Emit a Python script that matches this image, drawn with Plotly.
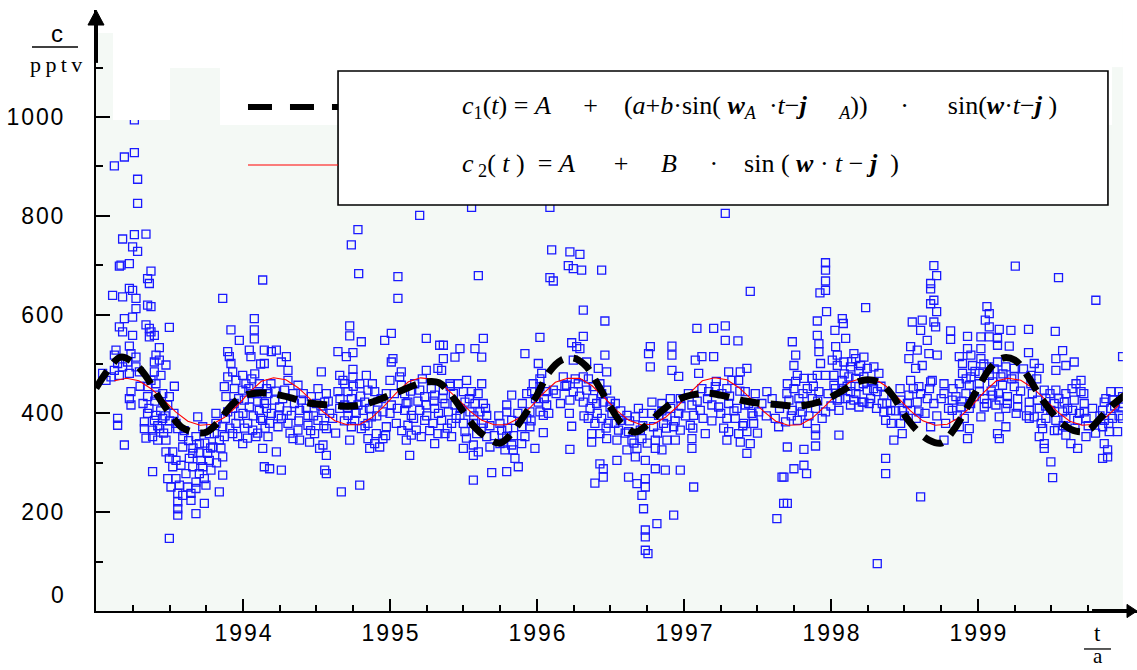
import plotly.graph_objects as go

# ---------------- data ----------------
# measured concentrations c / pptv, grouped by period: [year, value]
obs_1993 = [
 [1993.261,994],[1993.125,901],[1993.193,919],[1993.261,928],[1993.283,874],[1993.283,825],
 [1993.181,753],[1993.261,762],[1993.340,763],[1993.249,737],[1993.283,728],[1993.159,698],
 [1993.227,703],[1993.170,700],[1993.374,688],[1993.351,673],[1993.363,663],[1993.113,639],
 [1993.181,636],[1993.227,653],[1993.249,649],[1993.272,633],[1993.351,619],[1993.374,616],
 [1993.272,612],[1993.193,592],[1993.249,595],[1993.159,575],[1993.181,565],[1993.249,558],
 [1993.340,579],[1993.363,572],[1993.374,565],[1993.397,558],[1993.363,555],[1993.499,574],
 [1993.136,528],[1993.125,518],[1993.227,536],[1993.238,521],[1993.272,514],[1993.431,533],
 [1993.408,518],[1993.397,504],[1993.431,508],[1993.476,498],[1993.147,501],[1993.181,494],
 [1993.215,504],[1993.272,494],[1993.159,477],[1993.227,481],[1993.295,484],[1993.397,484],
 [1993.442,477],[1993.374,467],[1993.408,460],[1993.351,454],[1993.533,455],[1993.238,444],
 [1993.227,430],[1993.238,417],[1993.351,434],[1993.408,437],[1993.454,440],[1993.499,434],
 [1993.488,417],[1993.147,390],[1993.147,376],[1993.193,336],[1993.351,400],[1993.408,396],
 [1993.329,383],[1993.397,386],[1993.454,390],[1993.329,369],[1993.385,366],[1993.431,369],
 [1993.488,369],[1993.544,380],[1993.590,353],[1993.420,346],[1993.476,346],[1993.385,353],
 [1993.556,369],[1993.385,282],[1993.476,322],[1993.522,322],[1993.499,309],[1993.544,305],
 [1993.590,332],[1993.578,295],[1993.522,292],[1993.488,268],[1993.544,268],[1993.510,251],
 [1993.567,255],[1993.556,238],[1993.556,221],[1993.556,207],[1993.556,194],[1993.590,234],
 [1993.624,251],[1993.646,238],[1993.646,224],[1993.612,278],[1993.658,292],[1993.680,197],
 [1993.680,261],[1993.680,248],[1993.703,278],[1993.714,305],[1993.726,292],[1993.737,218],
 [1993.737,268],[1993.748,255],[1993.760,319],[1993.771,305],[1993.782,285],[1993.794,332],
 [1993.839,241],[1993.862,275],[1993.862,312],[1993.499,147],[1993.692,393],[1993.680,353],
 [1993.703,339],[1993.658,319],[1993.635,309],[1993.726,373],[1993.771,359],[1993.816,380],
 [1993.805,359],[1993.839,346],[1993.816,400],[1993.862,373],[1993.873,353],[1993.896,403],
 [1993.884,434],[1993.873,454],[1993.896,474],[1993.896,525],[1993.907,515],[1993.918,501],
 [1993.930,484],[1993.952,467],[1993.941,450],[1993.862,633],[1993.918,569],[1993.975,548],
 [1993.952,380],[1993.930,359],[1993.964,353],[1993.998,339],[1993.998,477],[1993.998,447],
 [1993.045,481],[1993.068,467],[1993.102,474],[1993.125,487],[1993.930,410],[1993.970,430],
]
obs_1994 = [
 [1994.009,427],[1994.032,380],[1994.043,413],[1994.043,528],[1994.054,515],[1994.077,592],
 [1994.077,569],[1994.077,551],[1994.066,366],[1994.088,353],[1994.134,670],[1994.145,528],
 [1994.145,501],[1994.134,329],[1994.145,292],[1994.111,460],[1994.111,406],[1994.145,420],
 [1994.134,386],[1994.020,460],[1994.060,440],[1994.100,425],[1994.120,390],[1994.070,395],
 [1994.030,350],[1994.100,360],[1994.150,370],[1994.000,400],[1994.080,480],[1994.120,500],
 [1994.160,450],
 [1994.782,772],[1994.737,741],[1994.787,683],[1995.054,677],[1995.054,633],[1995.202,801],
 [1994.726,577],[1994.726,557],[1994.805,545],[1994.964,548],[1995.009,562],[1995.247,552],
 [1995.338,538],[1994.646,525],[1994.703,515],[1994.748,523],[1994.227,528],[1994.193,525],
 [1994.295,515],[1994.261,504],[1995.020,511],[1995.009,504],[1994.533,484],[1994.748,489],
 [1994.839,477],[1994.658,477],[1994.680,467],[1994.748,474],[1995.077,484],[1995.000,467],
 [1995.066,474],[1995.247,487],[1995.326,491],[1994.306,487],[1994.306,467],[1994.374,457],
 [1994.170,440],[1994.215,427],[1994.249,413],[1994.283,447],[1994.340,440],[1994.397,427],
 [1994.465,434],[1994.499,420],[1994.567,440],[1994.556,423],[1994.590,400],[1994.193,400],
 [1994.261,390],[1994.329,396],[1994.385,406],[1994.442,396],[1994.510,386],[1994.544,406],
 [1994.181,380],[1994.238,373],[1994.306,380],[1994.374,366],[1994.442,376],[1994.487,359],
 [1994.567,369],[1994.340,349],[1994.385,346],[1994.453,342],[1994.521,329],[1994.544,336],
 [1994.170,353],[1994.227,322],[1994.181,288],[1994.261,285],[1994.556,285],[1994.567,278],
 [1994.567,315],[1994.669,241],[1994.794,255],[1994.692,460],[1994.646,444],[1994.714,444],
 [1994.794,460],[1994.850,447],[1994.896,444],[1994.737,430],[1994.692,417],[1994.658,410],
 [1994.782,417],[1994.828,423],[1994.918,423],[1994.975,440],[1994.714,396],[1994.760,386],
 [1994.816,406],[1994.873,393],[1994.952,403],[1995.009,417],[1994.737,373],[1994.805,369],
 [1994.850,380],[1994.907,359],[1994.975,373],[1995.043,380],[1994.850,349],[1994.896,339],
 [1994.952,349],[1994.862,329],[1994.930,332],[1994.726,346],[1995.111,346],[1995.134,315],
 [1995.077,457],[1995.100,440],[1995.122,423],[1995.168,460],[1995.202,447],[1995.236,434],
 [1995.281,450],[1995.304,437],[1995.100,406],[1995.145,396],[1995.202,406],[1995.247,417],
 [1995.304,410],[1995.122,376],[1995.179,366],[1995.236,386],[1995.292,380],[1995.145,356],
 [1995.213,353],[1995.326,359],[1995.304,339],
]
obs_1995 = [
 [1995.555,817],[1996.088,817],[1995.601,679],[1996.100,731],[1996.224,727],[1996.292,722],
 [1996.213,699],[1996.247,693],[1996.304,690],[1996.440,690],[1996.088,675],[1996.111,668],
 [1996.315,609],[1996.462,587],[1995.635,552],[1996.020,554],[1995.918,521],[1996.315,556],
 [1996.236,543],[1996.270,535],[1996.292,531],[1996.462,518],[1995.578,531],[1995.624,514],
 [1995.476,531],[1995.442,514],[1995.363,538],[1995.363,511],[1995.351,487],[1996.009,501],
 [1996.032,481],[1996.247,508],[1996.338,504],[1996.417,491],[1996.474,484],
 [1995.408,460],[1995.465,460],[1995.521,467],[1995.555,444],[1995.624,460],[1995.363,447],
 [1995.431,440],[1995.499,444],[1995.374,420],[1995.442,417],[1995.510,423],[1995.578,420],
 [1995.635,420],[1995.397,403],[1995.476,396],[1995.544,403],[1995.612,403],[1995.658,396],
 [1995.351,386],[1995.419,380],[1995.499,380],[1995.567,380],[1995.635,380],[1995.374,359],
 [1995.419,353],[1995.510,363],[1995.590,359],[1995.658,353],[1995.499,329],[1995.567,336],
 [1995.601,322],[1995.567,315],[1995.680,332],[1995.760,366],[1995.794,353],[1995.748,339],
 [1995.782,326],[1995.828,336],[1995.850,309],[1995.839,326],[1995.873,292],[1995.794,282],
 [1995.692,280],[1995.567,265],[1995.748,380],[1995.794,417],[1995.828,437],[1995.794,403],
 [1995.828,386],[1995.896,373],[1995.918,353],[1995.896,339],[1995.952,373],[1995.986,329],
 [1996.043,361],[1995.975,460],[1995.964,444],[1996.020,454],[1996.066,444],[1996.111,447],
 [1996.009,423],[1996.020,403],[1996.043,396],[1996.066,417],[1995.952,403],[1995.930,390],
 [1996.179,474],[1996.202,457],[1996.247,444],[1996.224,427],[1996.281,460],[1996.315,474],
 [1996.338,447],[1996.383,454],[1996.428,460],[1996.474,447],[1996.315,423],[1996.361,410],
 [1996.406,420],[1996.451,423],[1996.497,413],[1996.349,390],[1996.394,380],[1996.440,390],
 [1996.485,380],[1996.372,359],[1996.428,359],[1996.474,349],[1996.372,342],[1996.236,374],
 [1996.224,327],[1996.428,298],[1996.451,288],[1996.451,271],[1996.394,259],
]
obs_1996 = [
 [1997.281,805],[1997.451,647],[1997.088,572],[1997.202,572],[1997.281,577],[1997.281,548],
 [1997.367,547],[1996.771,535],[1996.759,521],[1996.918,536],[1996.918,518],[1996.771,494],
 [1996.918,487],[1996.964,475],[1997.077,508],[1997.122,515],[1997.202,515],[1997.100,481],
 [1997.304,484],[1997.383,484],[1997.428,491],[1997.564,444],[1996.533,420],
 [1996.510,400],[1996.567,386],[1996.612,396],[1996.669,393],[1996.725,400],[1996.555,366],
 [1996.623,363],[1996.703,366],[1996.544,346],[1996.646,346],[1996.714,349],[1996.612,326],
 [1996.680,329],[1996.737,305],[1996.669,312],[1996.805,329],[1996.805,288],[1996.873,285],
 [1996.975,285],[1996.544,305],[1996.623,271],[1996.680,258],[1996.737,268],[1996.737,251],
 [1996.714,234],[1996.725,207],[1996.737,164],[1996.737,150],[1996.737,123],[1996.755,116],
 [1996.816,177],[1996.930,194],[1997.066,251],[1996.782,423],[1996.850,420],[1996.907,430],
 [1996.975,430],[1996.827,396],[1996.884,393],[1996.964,400],[1996.793,373],[1996.861,380],
 [1996.930,373],[1996.975,366],[1996.805,346],[1996.884,346],[1996.941,346],[1996.850,326],
 [1997.054,417],[1997.066,396],[1997.043,376],[1997.054,349],[1997.054,329],[1997.111,406],
 [1997.145,359],[1997.122,450],[1997.168,444],[1997.213,454],[1997.258,440],[1997.292,450],
 [1997.326,467],[1997.372,467],[1997.417,444],[1997.485,440],[1997.190,417],[1997.236,413],
 [1997.304,420],[1997.360,410],[1997.417,417],[1997.462,400],[1997.508,403],[1997.292,390],
 [1997.349,390],[1997.406,380],[1997.474,380],[1997.304,363],[1997.372,359],[1997.428,363],
 [1997.292,346],[1997.383,342],[1997.451,339],[1997.428,319],[1997.621,390],[1997.644,373],
 [1997.667,271],[1997.678,218],[1997.632,187],
]
obs_1997 = [
 [1997.963,705],[1997.963,690],[1997.963,668],[1997.963,649],[1997.925,644],[1997.970,606],
 [1998.236,614],[1998.700,699],[1998.719,679],[1998.678,663],[1998.678,652],[1998.700,629],
 [1998.678,622],[1998.719,606],[1998.700,585],[1998.712,575],[1998.077,592],[1998.084,582],
 [1997.907,587],[1998.027,568],[1998.553,585],[1998.621,589],[1998.814,567],[1998.814,550],
 [1998.100,552],[1997.907,558],[1997.737,545],[1997.760,518],[1997.918,541],[1997.918,525],
 [1997.929,501],[1998.032,535],[1998.043,518],[1998.156,521],[1998.224,514],[1998.610,568],
 [1998.655,548],[1998.542,535],[1998.587,528],[1998.666,521],[1998.723,518],[1998.530,511],
 [1998.576,491],[1998.621,497],[1997.748,497],[1997.771,477],
 [1997.703,460],[1997.748,450],[1997.816,471],[1997.873,471],[1997.839,450],[1997.907,477],
 [1997.963,477],[1997.714,427],[1997.782,430],[1997.873,430],[1997.918,444],[1997.737,406],
 [1997.805,403],[1997.895,410],[1997.691,383],[1997.771,386],[1997.839,380],[1997.963,403],
 [1997.895,369],[1997.895,356],[1997.703,332],[1997.816,327],[1997.895,334],[1997.748,288],
 [1997.816,295],[1997.834,278],[1997.703,218],[1997.680,271],[1998.054,356],[1998.009,508],
 [1998.043,497],[1998.088,504],[1998.133,494],[1998.168,511],[1998.202,497],[1998.247,491],
 [1998.292,494],[1998.326,481],[1998.020,477],[1998.077,467],[1998.122,474],[1998.168,471],
 [1998.224,474],[1998.281,464],[1998.020,457],[1998.077,447],[1998.133,444],[1998.190,454],
 [1998.247,447],[1998.315,444],[1998.360,437],[1998.043,427],[1998.100,430],[1998.156,427],
 [1998.213,423],[1998.270,430],[1998.349,420],[1998.054,406],[1998.133,417],[1998.190,413],
 [1998.224,423],[1998.360,403],[1998.406,406],[1998.372,386],[1998.428,346],[1998.372,309],
 [1998.372,278],[1998.610,231],[1998.315,96],[1998.474,427],[1998.530,437],[1998.587,423],
 [1998.542,467],[1998.598,454],[1998.655,430],[1998.485,406],[1998.542,406],[1998.598,403],
 [1998.474,380],[1998.485,359],[1998.678,464],[1998.689,467],[1998.769,460],[1998.769,440],
 [1998.678,373],[1998.769,346],[1998.825,427],[1998.825,406],
]
obs_1998 = [
 [1999.254,698],[1999.548,675],[1999.802,629],[1999.061,616],[1999.077,602],[1999.050,589],
 [1999.077,575],[1999.145,570],[1999.224,568],[1999.344,570],[1999.526,566],[1998.929,556],
 [1999.020,555],[1999.077,555],[1999.133,552],[1999.133,538],[1999.213,536],[1998.929,531],
 [1999.020,531],[1999.344,523],[1999.576,527],[1999.530,511],[1999.598,497],[1999.655,504],
 [1999.984,515],[1998.873,515],[1998.952,518],[1998.895,501],[1998.963,497],[1999.020,511],
 [1999.077,494],[1999.133,504],[1999.190,494],[1999.247,491],[1999.383,501],[1999.417,491],
 [1999.530,487],[1998.895,481],[1998.952,474],[1999.009,481],[1999.077,477],[1999.156,474],
 [1999.247,474],[1999.360,477],[1999.701,467],[1999.667,460],[1998.873,460],[1998.941,457],
 [1999.009,460],[1999.100,464],[1999.167,457],[1999.247,454],[1999.360,460],[1999.451,447],
 [1999.530,447],[1999.598,440],[1999.701,444],[1999.904,444],[1999.961,444],[1998.850,434],
 [1998.918,440],[1998.975,434],[1999.043,430],[1999.100,437],[1999.145,427],[1999.201,434],
 [1999.270,430],[1999.349,423],[1999.406,427],[1999.462,430],[1999.519,420],[1999.587,423],
 [1999.655,427],[1999.723,420],[1999.859,423],[1999.916,427],[1999.984,434],[1998.884,413],
 [1998.941,410],[1999.043,413],[1999.122,417],[1999.190,410],[1999.270,413],[1999.349,406],
 [1999.417,410],[1999.496,406],[1999.576,403],[1999.644,406],[1999.723,403],[1999.848,406],
 [1999.904,410],[1999.973,413],[1998.907,390],[1999.020,393],[1999.145,393],[1999.190,373],
 [1999.349,390],[1999.383,393],[1999.462,390],[1999.530,386],[1999.598,390],[1999.678,386],
 [1999.735,390],[1999.859,386],[1999.916,390],[1999.984,390],[1998.873,373],[1998.941,369],
 [1998.929,349],[1999.133,359],[1999.145,349],[1999.417,353],[1999.440,369],[1999.451,339],
 [1999.451,329],[1999.542,366],[1999.598,356],[1999.632,339],[1999.678,329],[1999.735,353],
 [1999.848,373],[1999.893,363],[1999.950,363],[1999.859,339],[1999.882,326],[1999.882,312],
 [1999.848,309],[1999.496,302],[1999.508,270],
]
# further points in the dense central band
obs_band = [
 [1993.30,455],[1993.32,420],[1993.36,410],[1993.40,425],[1993.44,405],[1993.47,395],[1993.50,385],
 [1993.53,400],[1993.46,360],[1993.42,375],[1993.34,350],[1993.60,365],[1993.63,345],[1993.66,330],
 [1993.70,320],[1993.74,340],[1993.78,330],[1993.82,300],[1993.85,330],[1993.88,390],[1993.91,370],
 [1993.94,420],[1993.97,395],[1994.01,370],[1994.04,450],[1994.06,470],[1994.09,440],[1994.13,440],
 [1994.16,410],[1994.19,460],[1994.22,445],[1994.24,395],[1994.27,430],[1994.30,405],[1994.32,360],
 [1994.35,420],[1994.38,385],[1994.41,440],[1994.43,410],[1994.46,365],[1994.48,395],[1994.51,450],
 [1994.53,415],[1994.55,375],[1994.58,425],[1994.61,390],[1994.63,360],[1994.66,430],[1994.69,385],
 [1994.71,410],[1994.75,455],[1994.77,400],[1994.80,435],[1994.83,375],[1994.86,410],[1994.88,460],
 [1994.91,395],[1994.94,430],[1994.97,355],[1995.00,400],[1995.03,440],[1995.05,410],[1995.08,365],
 [1995.11,420],[1995.14,445],[1995.16,390],[1995.19,425],[1995.22,470],[1995.25,395],[1995.27,365],
 [1995.30,425],[1995.33,400],[1995.36,430],[1995.39,370],[1995.41,455],[1995.45,390],[1995.48,410],
 [1995.52,350],[1995.54,430],[1995.57,395],[1995.60,440],[1995.62,370],[1995.65,410],[1995.68,375],
 [1995.71,355],[1995.74,395],[1995.77,340],[1995.80,370],[1995.84,355],[1995.87,400],[1995.90,420],
 [1995.93,440],[1995.96,385],[1995.99,430],[1996.02,470],[1996.05,430],[1996.08,400],[1996.13,440],
 [1996.16,420],[1996.19,455],[1996.22,400],[1996.26,470],[1996.29,435],[1996.32,395],[1996.35,470],
 [1996.38,430],[1996.41,400],[1996.44,440],[1996.47,370],[1996.50,425],[1996.53,380],[1996.57,405],
 [1996.60,360],[1996.63,385],[1996.66,340],[1996.69,410],[1996.72,375],[1996.75,340],[1996.78,400],
 [1996.82,360],[1996.85,405],[1996.88,370],[1996.91,410],[1996.94,385],[1996.98,415],[1997.01,395],
 [1997.03,440],[1997.06,370],[1997.09,425],[1997.13,390],[1997.16,430],[1997.19,385],[1997.22,465],
 [1997.25,400],[1997.27,370],[1997.31,435],[1997.34,405],[1997.38,445],[1997.40,375],[1997.44,420],
 [1997.47,395],[1997.50,360],[1997.53,420],[1997.56,395],[1997.60,430],[1997.65,410],[1997.70,440],
 [1997.73,395],[1997.76,465],[1997.79,415],[1997.81,440],[1997.85,395],[1997.88,455],[1997.91,425],
 [1997.94,390],[1997.98,440],[1998.00,415],[1998.03,450],[1998.06,430],[1998.09,480],[1998.11,455],
 [1998.14,505],[1998.17,440],[1998.19,485],[1998.22,460],[1998.26,420],[1998.29,450],[1998.31,410],
 [1998.34,455],[1998.38,420],[1998.41,380],[1998.44,405],[1998.47,450],[1998.50,395],[1998.52,420],
 [1998.56,450],[1998.58,390],[1998.61,440],[1998.64,400],[1998.67,450],[1998.70,420],[1998.72,395],
 [1998.75,430],[1998.78,380],[1998.80,410],[1998.83,450],[1998.86,395],[1998.89,425],[1998.92,470],
 [1998.95,420],[1998.98,485],[1999.01,445],[1999.04,500],[1999.06,420],[1999.09,445],[1999.11,490],
 [1999.14,440],[1999.17,480],[1999.20,420],[1999.23,470],[1999.26,400],[1999.29,445],[1999.31,490],
 [1999.33,395],[1999.37,440],[1999.40,470],[1999.43,380],[1999.46,415],[1999.49,440],[1999.52,365],
 [1999.55,430],[1999.58,375],[1999.61,410],[1999.64,450],[1999.66,370],[1999.69,400],[1999.72,440],
 [1999.75,375],[1999.78,410],[1999.80,360],[1999.83,395],[1999.87,430],[1999.89,380],[1999.93,415],
 [1999.96,395],[1999.99,420],
]

# fitted curve c1 (thick dashed), monthly from 1993.0 to 2000.0
fit1_start = 1993.0
fit1_vals = [451, 488, 514, 504, 478, 437, 401, 372, 362, 362, 383, 415,
             435, 441, 441, 437, 431, 423, 419, 417, 415, 415, 419, 427,
             437, 447, 457, 464, 462, 437, 403, 370, 350, 340, 362, 397,
             437, 484, 508, 512, 496, 457, 413, 377, 362, 377, 401, 421,
             433, 439, 441, 437, 431, 425, 421, 419, 417, 415, 417, 423,
             433, 447, 462, 468, 462, 437, 397, 366, 346, 340, 366, 407,
             451, 492, 512, 508, 478, 437, 403, 377, 364, 366, 391, 417,
             437]
# fitted curve c2 (thin red), monthly from 1993.125
fit2_start = 1993.125
fit2_vals = [466, 471, 466, 450, 428, 403, 384, 376, 378, 392, 415, 442,
             465, 472, 468, 452, 429, 404, 385, 377, 377, 391, 414, 441,
             464, 472, 469, 453, 430, 405, 386, 377, 377, 390, 413, 440,
             463, 471, 471, 456, 432, 406, 386, 377, 378, 392, 415, 442,
             466, 472, 468, 452, 429, 404, 384, 376, 377, 391, 414, 440,
             463, 471, 471, 455, 431, 405, 385, 376, 378, 392, 416, 443,
             466, 471, 467, 451, 428, 403, 384, 376, 378, 393, 417]

y_ticks = [200, 400, 600, 800, 1000]
y_minor = [100, 300, 500, 700, 900, 1100]
x_ticks = [1994, 1995, 1996, 1997, 1998, 1999]
x_minor = [1993.25, 1993.5, 1993.75, 1994.25, 1994.5, 1994.75, 1995.25, 1995.5, 1995.75,
           1996.25, 1996.5, 1996.75, 1997.25, 1997.5, 1997.75, 1998.25, 1998.5, 1998.75,
           1999.25, 1999.5, 1999.75]

# ---------------- figure ----------------
HS = "\u200a"
def spaced(v):
    return HS.join(str(v))

all_obs = obs_1993 + obs_1994 + obs_1995 + obs_1996 + obs_1997 + obs_1998 + obs_band
obs_t = [p[0] for p in all_obs]
obs_c = [p[1] for p in all_obs]
fit1_t = [fit1_start + i / 12 for i in range(len(fit1_vals))]
fit2_t = [fit2_start + i / 12 for i in range(len(fit2_vals))]

fig = go.Figure()
fig.add_trace(go.Scatter(x=obs_t, y=obs_c, mode="markers",
                         marker=dict(symbol="square-open", size=8, color="#1a1aff",
                                     line=dict(width=1.3, color="#1a1aff")),
                         hoverinfo="x+y"))
fig.add_trace(go.Scatter(x=fit2_t, y=fit2_vals, mode="lines",
                         line=dict(color="#ff0000", width=1.1)))
fig.add_trace(go.Scatter(x=fit1_t, y=fit1_vals, mode="lines",
                         line=dict(color="#000000", width=7, dash="20px,11px", shape="spline")))

GREEN = "#f4f9f5"
shapes = []
def white(x0, x1, y0, y1):
    shapes.append(dict(type="rect", xref="x", yref="y", x0=x0, x1=x1, y0=y0, y1=y1,
                       fillcolor="white", line=dict(width=0), layer="above"))
TOP = 1230
white(1993.014, 1993.116, 1170, TOP)
white(1993.116, 1993.503, 994, TOP)
white(1993.503, 1993.844, 1099, TOP)
white(1993.844, 1999.912, 984, TOP)
white(1999.912, 1999.986, 1101, TOP)
white(1999.986, 2000.2, 3, TOP)

shapes += [
    dict(type="line", xref="paper", yref="paper", x0=0, x1=0, y0=0.912, y1=0.976,
         line=dict(color="black", width=4), layer="above"),
    dict(type="path", xref="paper", yref="paper",
         path="M -0.0077,0.975 L 0,1.0 L 0.0077,0.975 Z",
         fillcolor="black", line=dict(color="black", width=1), layer="above"),
    dict(type="line", xref="paper", yref="paper", x0=0.9568, x1=0.991, y0=0, y1=0,
         line=dict(color="black", width=4), layer="above"),
    dict(type="path", xref="paper", yref="paper",
         path="M 0.9904,-0.011 L 1.0,0 L 0.9904,0.011 Z",
         fillcolor="black", line=dict(color="black", width=1), layer="above"),
    dict(type="rect", xref="paper", yref="paper", x0=0.2325, x1=0.9721, y0=0.6755, y1=0.8985,
         fillcolor="white", line=dict(color="black", width=1.6), layer="above"),
    dict(type="line", xref="paper", yref="paper", x0=0.1460, x1=0.2325, y0=0.8386, y1=0.8386,
         line=dict(color="black", width=6, dash="24px,18px"), layer="above"),
    dict(type="line", xref="paper", yref="paper", x0=0.1460, x1=0.2325, y0=0.7421, y1=0.7421,
         line=dict(color="#ff0000", width=1.2), layer="above"),
    dict(type="line", xref="paper", yref="paper", x0=-0.0615, x1=-0.0173, y0=0.9384, y1=0.9384,
         line=dict(color="black", width=1.3)),
    dict(type="line", xref="paper", yref="paper", x0=0.9491, x1=0.9750, y0=-0.0632, y1=-0.0632,
         line=dict(color="black", width=1.3)),
]

S = "\u00a0"
W = "<b><i>w</i></b>"
J = "<b><i>j</i></b>"
eq1 = ("<i>c</i><sub>1</sub>(<i>t</i>)" + S + "=" + S + "<i>A</i>" + S*5 + "+" + S*4 +
       "(<i>a</i>+<i>b</i>·sin(" + S + W + "<sub><i>A</i></sub>" + S*2 + "·<i>t</i>−" + J +
       S*5 + "<sub><i>A</i></sub>))" + S*5 + "·" + S*6 + "sin(" + W + "·<i>t</i>−" + J + S + ")")
eq2 = ("<i>c</i><sub>" + S + "2</sub>(" + S + "<i>t</i>" + S + ")" + S*2 + "=" + S + "<i>A</i>" + S*6 + "+" +
       S*5 + "<i>B</i>" + S*5 + "·" + S*4 + "sin" + S + "(" + S + W + S + "·" + S + "<i>t</i>" + S +
       "−" + S + J + S*2 + ")")

serif = "Liberation Serif"
def note(text, x, y, size, family, xanchor="center"):
    return dict(text=text, x=x, y=y, xref="paper", yref="paper", xanchor=xanchor, yanchor="middle",
                showarrow=False, font=dict(family=family, size=size, color="black"))

ann = [
    note(eq1, 0.3497, 0.8386, 26, serif, "left"),
    note(eq2, 0.3497, 0.7421, 26, serif, "left"),
    note("c", -0.0375, 0.9617, 24, "Liberation Sans"),
    note("p\u2009p\u2009t\u2009v", -0.0384, 0.9085, 22, serif),
    note("t", 0.9625, -0.0370, 23, serif),
    note("a", 0.9625, -0.0750, 21, serif),
    note("0", -0.0288, 0.0266, 23, "Liberation Sans", "right"),
]

fig.update_layout(
    width=1137, height=670, showlegend=False,
    margin=dict(l=96, r=0, t=10, b=59, pad=0),
    paper_bgcolor="white", plot_bgcolor=GREEN,
    shapes=shapes, annotations=ann,
    xaxis=dict(range=[1993, 2000.082], showgrid=False, zeroline=False,
               showline=True, linecolor="black", linewidth=2,
               tickvals=x_ticks, ticktext=[spaced(v) for v in x_ticks],
               ticks="inside", ticklen=12, tickwidth=2, tickcolor="black",
               minor=dict(tickvals=x_minor, ticks="inside", ticklen=6, tickwidth=2, tickcolor="black"),
               tickfont=dict(family="Liberation Sans", size=23, color="black")),
    yaxis=dict(range=[0, 1216.6], showgrid=False, zeroline=False,
               showline=True, linecolor="black", linewidth=2,
               tickvals=y_ticks, ticktext=[spaced(v) for v in y_ticks],
               ticks="inside", ticklen=14, tickwidth=2, tickcolor="black",
               minor=dict(tickvals=y_minor, ticks="inside", ticklen=7, tickwidth=2, tickcolor="black"),
               ticklabelstandoff=26,
               tickfont=dict(family="Liberation Sans", size=23, color="black")),
)

fig.write_html("out.html", config={"displayModeBar": False},
               post_script="document.body.style.margin='0';document.body.style.padding='0';")
